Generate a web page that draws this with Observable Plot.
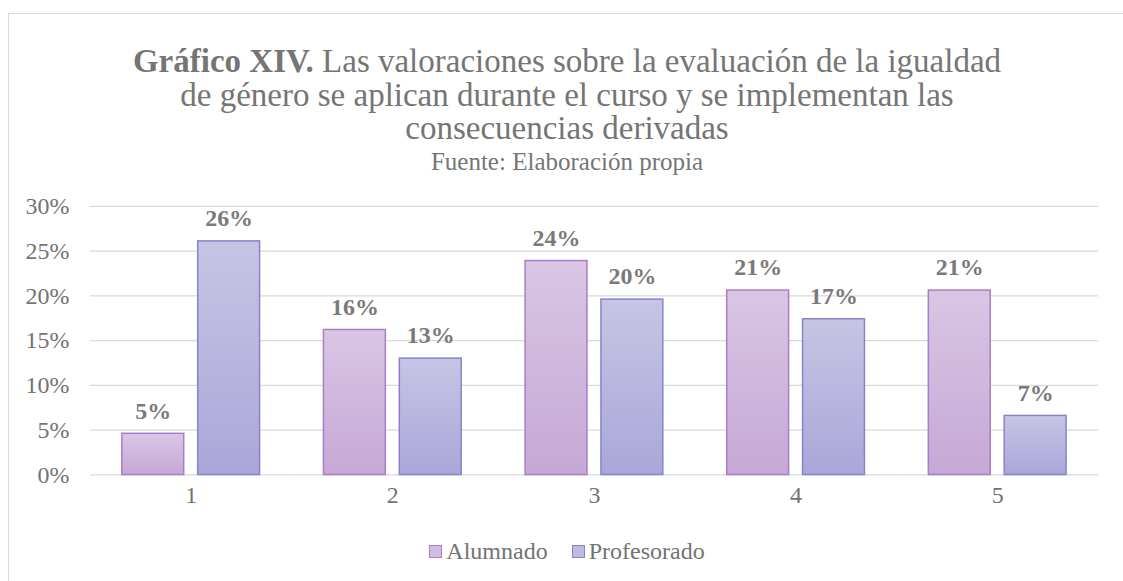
<!DOCTYPE html>
<html><head><meta charset="utf-8">
<script src="https://cdn.jsdelivr.net/npm/d3@7"></script>
<script src="https://cdn.jsdelivr.net/npm/@observablehq/plot@0.6"></script>
<style>
html,body{margin:0;padding:0;background:#fff;width:1123px;height:581px;overflow:hidden;}
body, div, span, b{font-family:'Liberation Serif','Times New Roman',Tinos,serif;}
#frame{position:absolute;left:8px;top:13px;width:1118px;height:620px;border:1px solid #d9d9d9;box-sizing:border-box;}
#title{position:absolute;left:0;top:31px;width:100%;text-align:center;font-size:33px;line-height:33.5px;color:#757575;}
#subtitle{position:absolute;left:0;top:134px;width:100%;text-align:center;font-size:25px;line-height:28px;color:#757575;}
#chart{position:absolute;left:0;top:172px;}
#legend{position:absolute;left:0;top:524px;width:100%;display:flex;justify-content:center;align-items:center;font-size:24px;color:#737373;}
.item{display:flex;align-items:center;margin:0 12px;}
.sw{width:11px;height:11px;margin-right:4px;border:1px solid;}
</style></head><body>
<div id="frame">
  <div id="title"><b>Gráfico XIV.</b> Las valoraciones sobre la evaluación de la igualdad<br>de género se aplican durante el curso y se implementan las<br>consecuencias derivadas</div>
  <div id="subtitle">Fuente: Elaboración propia</div>
  <div id="chart"></div>
  <div id="legend"></div>
</div>
<script>
const categories = ["1", "2", "3", "4", "5"];
const series = ["Alumnado", "Profesorado"];
const alumnado = [4.6, 16.2, 23.9, 20.6, 20.6];
const profesorado = [26.1, 13.0, 19.6, 17.4, 6.6];
const yTicks = [0, 5, 10, 15, 20, 25, 30];
const seriesFill = ["url(#gradA)", "url(#gradP)"];
const seriesStroke = ["#a67fc8", "#8884cc"];
const legendFill = ["#d2bde0", "#bdbbe0"];

const rows = [];
categories.forEach((c, i) => {
  rows.push({cat: c, serie: series[0], value: alumnado[i]});
  rows.push({cat: c, serie: series[1], value: profesorado[i]});
});

const barMarks = series.map((s, k) =>
  Plot.barY(rows.filter(d => d.serie === s), {
    fx: "cat", x: "serie", y: "value",
    fill: seriesFill[k], stroke: seriesStroke[k], strokeWidth: 1.5, inset: 0
  })
);

const chart = Plot.plot({
  width: 1118, height: 324,
  marginLeft: 81, marginRight: 27, marginTop: 20, marginBottom: 35,
  style: {fontFamily: "'Liberation Serif','Times New Roman',Tinos,serif", fontSize: "24px", color: "#737373", background: "transparent", overflow: "visible"},
  fx: {domain: categories, padding: 0, label: null, axis: "bottom", tickSize: 0, tickPadding: 11},
  x: {domain: series, axis: null, paddingInner: 0.18, paddingOuter: 0.41},
  y: {domain: [0, 30], ticks: yTicks, tickFormat: d => d + "%", label: null, tickSize: 0, tickPadding: 21},
  marks: [
    Plot.gridY(yTicks, {stroke: "#d9d9d9", strokeOpacity: 1, strokeWidth: 1.3}),
    ...barMarks,
    Plot.text(rows, {
      fx: "cat", x: "serie", y: "value",
      text: d => Math.round(d.value) + "%",
      dy: -23, fontWeight: "bold", fontSize: 24, fill: "#7a7a7a"
    })
  ]
});

const ns = "http://www.w3.org/2000/svg";
const defs = document.createElementNS(ns, "defs");
defs.innerHTML = `
<linearGradient id="gradA" x1="0" y1="0" x2="0" y2="1">
  <stop offset="0" stop-color="#d9c6e4"/><stop offset="1" stop-color="#c6a8d6"/>
</linearGradient>
<linearGradient id="gradP" x1="0" y1="0" x2="0" y2="1">
  <stop offset="0" stop-color="#c6c5e4"/><stop offset="1" stop-color="#aaa7d9"/>
</linearGradient>`;
chart.insertBefore(defs, chart.firstChild);
document.getElementById("chart").appendChild(chart);

const legend = document.getElementById("legend");
series.forEach((s, k) => {
  const it = document.createElement("div");
  it.className = "item";
  const sw = document.createElement("div");
  sw.className = "sw";
  sw.style.background = legendFill[k];
  sw.style.borderColor = seriesStroke[k];
  const t = document.createElement("span");
  t.textContent = s;
  it.appendChild(sw); it.appendChild(t);
  legend.appendChild(it);
});
</script>
</body></html>
